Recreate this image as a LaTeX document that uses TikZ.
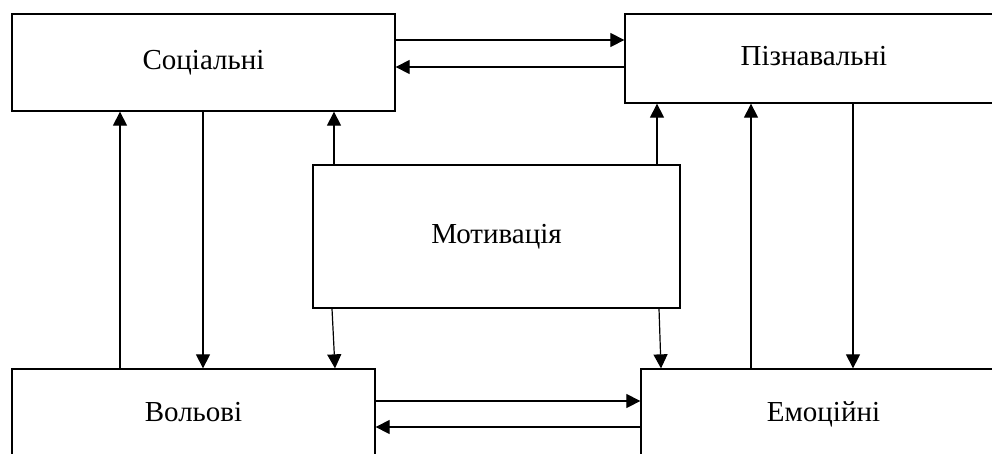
\documentclass[tikz,border=0pt]{standalone}
\usepackage{fontspec}
\setmainfont{Liberation Serif}
\usetikzlibrary{arrows.meta}
\begin{document}
\begin{tikzpicture}[x=1pt,y=-1pt,
    block/.style={draw,line width=1.3pt,inner sep=0pt,text height=19pt,text depth=6pt,
      font=\fontsize{29}{34}\selectfont},
    link/.style={line width=1.2pt,-{Triangle[length=14pt,width=14pt]}}]
      \useasboundingbox (0,0) rectangle (992,453);
      \clip (0,0) rectangle (992,453);
      \node[block,minimum width=383pt,minimum height=97pt] (soc) at (203.5,62.5) {Соціальні};
      \node[block,minimum width=378pt,minimum height=89pt] (pizn) at (814,58.5) {Пізнавальні};
      \node[block,minimum width=367pt,minimum height=143pt] (motyv) at (496.5,236.5) {Мотивація};
      \node[block,minimum width=363pt,minimum height=92pt] (volovi) at (193.5,415) {Вольові};
      \node[block,minimum width=365pt,minimum height=92pt] (emoc) at (823.5,415) {Емоційні};
      \begin{scope}[link]
        \draw (soc.east |- 0,40) to (pizn.west |- 0,40);
        \draw (pizn.west |- 0,67) to (soc.east |- 0,67);
        \draw (volovi.north -| 120,0) to (soc.south -| 120,0);
        \draw (soc.south -| 203,0) to (volovi.north -| 203,0);
        \draw (motyv.north -| 334,0) to (soc.south -| 334,0);
        \draw (motyv.north -| 657,0) to (pizn.south -| 657,0);
        \draw (motyv.south -| 332,0) to (volovi.north -| 335,0);
        \draw (motyv.south -| 659,0) to (emoc.north -| 661,0);
        \draw (volovi.east |- 0,401) to (emoc.west |- 0,401);
        \draw (emoc.west |- 0,427) to (volovi.east |- 0,427);
        \draw (emoc.north -| 751,0) to (pizn.south -| 751,0);
        \draw (pizn.south -| 853,0) to (emoc.north -| 853,0);
      \end{scope}
\end{tikzpicture}
\end{document}
